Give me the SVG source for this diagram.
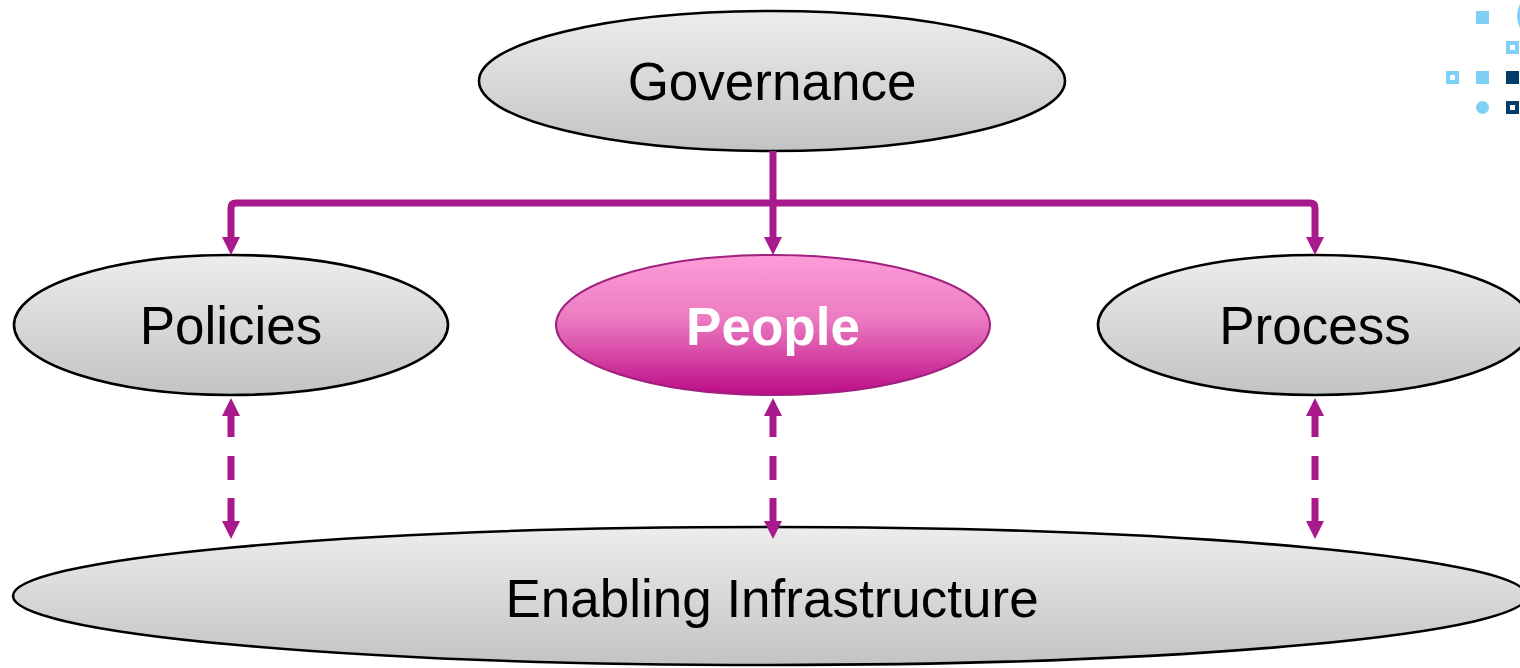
<svg xmlns="http://www.w3.org/2000/svg" width="1520" height="668" viewBox="0 0 1520 668">
  <defs>
    <linearGradient id="grey" x1="0" y1="0" x2="0" y2="1">
      <stop offset="0" stop-color="#EDEDED"/>
      <stop offset="1" stop-color="#C3C3C3"/>
    </linearGradient>
    <linearGradient id="pink" x1="0" y1="0" x2="0" y2="1">
      <stop offset="0" stop-color="#FD9CD8"/>
      <stop offset="0.45" stop-color="#EC7CC2"/>
      <stop offset="1" stop-color="#BD0C86"/>
    </linearGradient>
    <marker id="head" viewBox="0 0 18 18" markerWidth="18" markerHeight="18" refX="8" refY="9" markerUnits="userSpaceOnUse" orient="auto-start-reverse">
      <path d="M0,0 L18,9 L0,18 Z" fill="#A8198B"/>
    </marker>
    <style>
      .node { fill: url(#grey); stroke: #000; stroke-width: 2.6; }
      .hot { fill: url(#pink); stroke: #A0207F; stroke-width: 2; }
      .label { font-family: "Liberation Sans", Arial, sans-serif; font-size: 53px; text-anchor: middle; fill: #000; }
      .label.bold { font-weight: bold; fill: #FFF; }
      .link { fill: none; stroke: #A8198B; stroke-width: 7; stroke-linejoin: round; }
      .light { fill: #7FD0F5; }
      .dark { fill: #003D6B; }
      .hole { fill: #FFF; }
    </style>
  </defs>

  <!-- corner ornament -->
  <g id="ornament">
    <circle class="light" cx="1541" cy="16" r="24"/>
    <rect class="light" x="1476" y="11" width="13" height="13"/>
    <rect class="light" x="1506" y="41" width="13" height="13"/>
    <rect class="hole" x="1510" y="45" width="5" height="5"/>
    <rect class="light" x="1446" y="71" width="13" height="13"/>
    <rect class="hole" x="1450" y="75" width="5" height="5"/>
    <rect class="light" x="1476" y="71" width="13" height="13"/>
    <rect class="dark" x="1506" y="71" width="13" height="13"/>
    <circle class="light" cx="1482.5" cy="107.5" r="6.5"/>
    <rect class="dark" x="1506" y="101" width="13" height="13"/>
    <rect class="hole" x="1510" y="105" width="5" height="5"/>
  </g>

  <g id="governance">
    <ellipse class="node" cx="772" cy="81" rx="293" ry="70"/>
    <text class="label" x="772" y="100">Governance</text>
  </g>

  <g id="policies">
    <ellipse class="node" cx="231" cy="325" rx="217" ry="70"/>
    <text class="label" x="231" y="344">Policies</text>
  </g>

  <g id="people">
    <ellipse class="hot" cx="773" cy="325" rx="217" ry="70"/>
    <text class="label bold" x="773" y="345">People</text>
  </g>

  <g id="process">
    <ellipse class="node" cx="1315" cy="325" rx="217" ry="70"/>
    <text class="label" x="1315" y="344">Process</text>
  </g>

  <g id="infrastructure">
    <ellipse class="node" cx="770" cy="596" rx="757" ry="69"/>
    <text class="label" x="772" y="617">Enabling Infrastructure</text>
  </g>

  <g id="connectors">
    <!-- governance fans out to the three pillars -->
    <path class="link" d="M773 151 V245" marker-end="url(#head)"/>
    <path class="link" d="M773 203 H236 Q231 203 231 208 V245" marker-end="url(#head)"/>
    <path class="link" d="M773 203 H1310 Q1315 203 1315 208 V245" marker-end="url(#head)"/>
    <!-- two-way dashed links to the infrastructure -->
    <path class="link" d="M231 408 V437 M231 456 V480 M231 498 V529" marker-start="url(#head)" marker-end="url(#head)"/>
    <path class="link" d="M773 408 V437 M773 456 V480 M773 498 V529" marker-start="url(#head)" marker-end="url(#head)"/>
    <path class="link" d="M1315 408 V437 M1315 456 V480 M1315 498 V529" marker-start="url(#head)" marker-end="url(#head)"/>
  </g>
</svg>
